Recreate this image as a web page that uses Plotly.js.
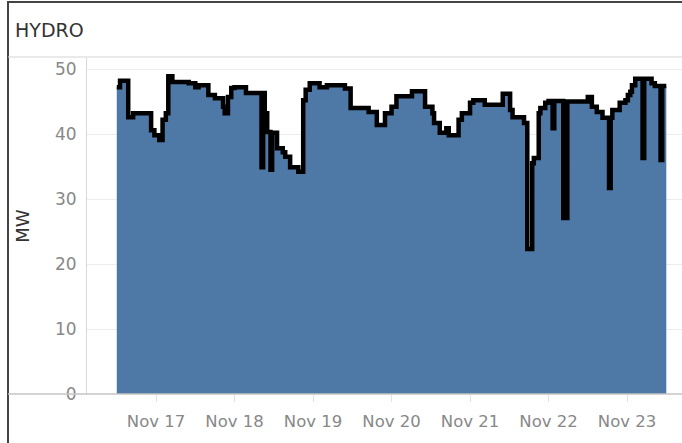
<!DOCTYPE html>
<html>
<head>
<meta charset="utf-8">
<script src="https://cdn.plot.ly/plotly-3.0.1.min.js"></script>
<style>
  html, body { margin: 0; padding: 0; background: #ffffff; }
  #chart { width: 682px; height: 443px; }
</style>
</head>
<body>
<div id="chart"></div>
<script>
// Step points (time, MW), drawn with a horizontal-then-vertical step line
const times = [
  '2023-11-16 12:00', '2023-11-16 13:00', '2023-11-16 15:30', '2023-11-16 17:00',
  '2023-11-16 22:30', '2023-11-16 23:30', '2023-11-17 01:00', '2023-11-17 02:00',
  '2023-11-17 03:00', '2023-11-17 03:45', '2023-11-17 05:00', '2023-11-17 10:00',
  '2023-11-17 12:00', '2023-11-17 13:00', '2023-11-17 16:00', '2023-11-17 18:00',
  '2023-11-17 20:30', '2023-11-17 21:00', '2023-11-17 22:00', '2023-11-17 23:00',
  '2023-11-18 00:00', '2023-11-18 03:30', '2023-11-18 08:15', '2023-11-18 08:45',
  '2023-11-18 09:15', '2023-11-18 10:00', '2023-11-18 11:00', '2023-11-18 11:30',
  '2023-11-18 13:00', '2023-11-18 14:45', '2023-11-18 15:30', '2023-11-18 17:00',
  '2023-11-18 19:30', '2023-11-18 21:00', '2023-11-18 21:45', '2023-11-18 23:00',
  '2023-11-19 02:00', '2023-11-19 04:15', '2023-11-19 09:45', '2023-11-19 11:30',
  '2023-11-19 17:00', '2023-11-19 19:30', '2023-11-19 22:00', '2023-11-20 00:00',
  '2023-11-20 01:30', '2023-11-20 06:15', '2023-11-20 10:15', '2023-11-20 12:30',
  '2023-11-20 13:00', '2023-11-20 14:45', '2023-11-20 16:45', '2023-11-20 17:30',
  '2023-11-20 20:30', '2023-11-20 21:30', '2023-11-21 00:00', '2023-11-21 01:00',
  '2023-11-21 04:30', '2023-11-21 10:00', '2023-11-21 12:15', '2023-11-21 13:00',
  '2023-11-21 16:30', '2023-11-21 17:30', '2023-11-21 19:00', '2023-11-21 19:30',
  '2023-11-21 21:00', '2023-11-21 21:30', '2023-11-21 23:00', '2023-11-22 00:00',
  '2023-11-22 01:15', '2023-11-22 01:45', '2023-11-22 04:30', '2023-11-22 05:45',
  '2023-11-22 12:00', '2023-11-22 13:15', '2023-11-22 14:45', '2023-11-22 16:30',
  '2023-11-22 18:30', '2023-11-22 19:00', '2023-11-22 19:30', '2023-11-22 21:45',
  '2023-11-22 23:30', '2023-11-23 00:15', '2023-11-23 01:00', '2023-11-23 01:30',
  '2023-11-23 02:30', '2023-11-23 04:45', '2023-11-23 05:15', '2023-11-23 07:30',
  '2023-11-23 08:30', '2023-11-23 10:15', '2023-11-23 10:45', '2023-11-23 12:00'
];
const mw = [
  47.2, 48.2, 42.6, 43.2,
  40.6, 39.8, 39.1, 42.2,
  43.2, 48.9, 48.0, 47.8,
  47.2, 47.5, 46.0, 45.5,
  44.2, 43.2, 45.7, 47.1,
  47.2, 46.3, 34.9, 46.3,
  43.2, 40.3, 34.5, 40.2,
  37.8, 37.2, 36.5, 34.9,
  34.2, 45.2, 46.8, 47.8,
  47.2, 47.5, 47.0, 44.0,
  43.4, 41.4, 43.2, 44.2,
  45.8, 46.6, 44.2, 43.2,
  41.7, 40.2, 40.9, 39.8,
  42.2, 43.2, 44.8, 45.2,
  44.5, 46.2, 43.7, 42.6,
  41.7, 22.3, 35.5, 36.3,
  43.2, 44.0, 44.8, 45.1,
  40.9, 45.1, 27.1, 45.0,
  45.7, 44.2, 43.4, 42.5,
  31.7, 42.5, 43.7, 44.8,
  45.2, 46.0, 46.5, 47.5,
  48.5, 36.3, 48.5, 47.8,
  47.4, 36.0, 47.4, 47.4
];
const yTicks = [0, 10, 20, 30, 40, 50];
const xTickVals = ['2023-11-17', '2023-11-18', '2023-11-19', '2023-11-20', '2023-11-21', '2023-11-22', '2023-11-23'];
const xTickText = ['Nov 17', 'Nov 18', 'Nov 19', 'Nov 20', 'Nov 21', 'Nov 22', 'Nov 23'];
const chartTitle = 'HYDRO';
const yTitle = 'MW';

const FONT = '"DejaVu Sans", "Open Sans", sans-serif';
const L = -79 / 595; // left frame edge in paper coords

const trace = {
  x: times,
  y: mw,
  type: 'scatter',
  mode: 'lines',
  line: { shape: 'hv', color: '#000000', width: 4.5 },
  fill: 'tozeroy',
  fillcolor: '#4e79a7',
  hoverinfo: 'x+y'
};

const layout = {
  width: 682,
  height: 443,
  margin: { l: 87, r: 0, t: 58, b: 49, pad: 0 },
  paper_bgcolor: '#ffffff',
  plot_bgcolor: '#ffffff',
  showlegend: false,
  font: { family: FONT, color: '#888888', size: 17 },
  xaxis: {
    type: 'date',
    range: ['2023-11-16 02:54', '2023-11-23 16:48'],
    tickvals: xTickVals,
    ticktext: xTickText,
    showgrid: false,
    zeroline: false,
    showline: false,
    ticks: 'outside',
    ticklen: 7,
    tickcolor: '#e2e2e2',
    tickfont: { family: FONT, size: 16.5, color: '#888888' },
    ticklabelstandoff: 5
  },
  yaxis: {
    range: [0, 51.7],
    tickvals: yTicks,
    showgrid: true,
    gridcolor: '#ececec',
    gridwidth: 1,
    zeroline: false,
    showline: true,
    linecolor: '#d9d9d9',
    linewidth: 1,
    ticks: '',
    tickfont: { family: FONT, size: 17, color: '#888888' },
    ticklabelstandoff: 6,
    title: { text: yTitle, font: { family: FONT, size: 18, color: '#333333' }, standoff: 20 }
  },
  shapes: [
    { type: 'line', xref: 'paper', yref: 'paper', x0: L, x1: 1, y0: 1.1667, y1: 1.1667, line: { color: '#444444', width: 2 } },
    { type: 'line', xref: 'paper', yref: 'paper', x0: L, x1: L, y0: -0.16, y1: 1.17, line: { color: '#444444', width: 2 } },
    { type: 'line', xref: 'paper', yref: 'paper', x0: L, x1: 1, y0: 1.003, y1: 1.003, line: { color: '#d4d4d4', width: 1 } },
    { type: 'line', xref: 'paper', yref: 'paper', x0: L, x1: 1, y0: 0, y1: 0, line: { color: '#c4c4c4', width: 1.5 } }
  ],
  annotations: [
    { text: chartTitle, xref: 'paper', yref: 'paper', x: (13 - 87) / 595, y: (394 - 30) / 336,
      xanchor: 'left', yanchor: 'middle', showarrow: false,
      font: { family: FONT, size: 19, color: '#333333' } }
  ]
};

Plotly.newPlot('chart', [trace], layout, { displayModeBar: false, staticPlot: true });
</script>
</body>
</html>
